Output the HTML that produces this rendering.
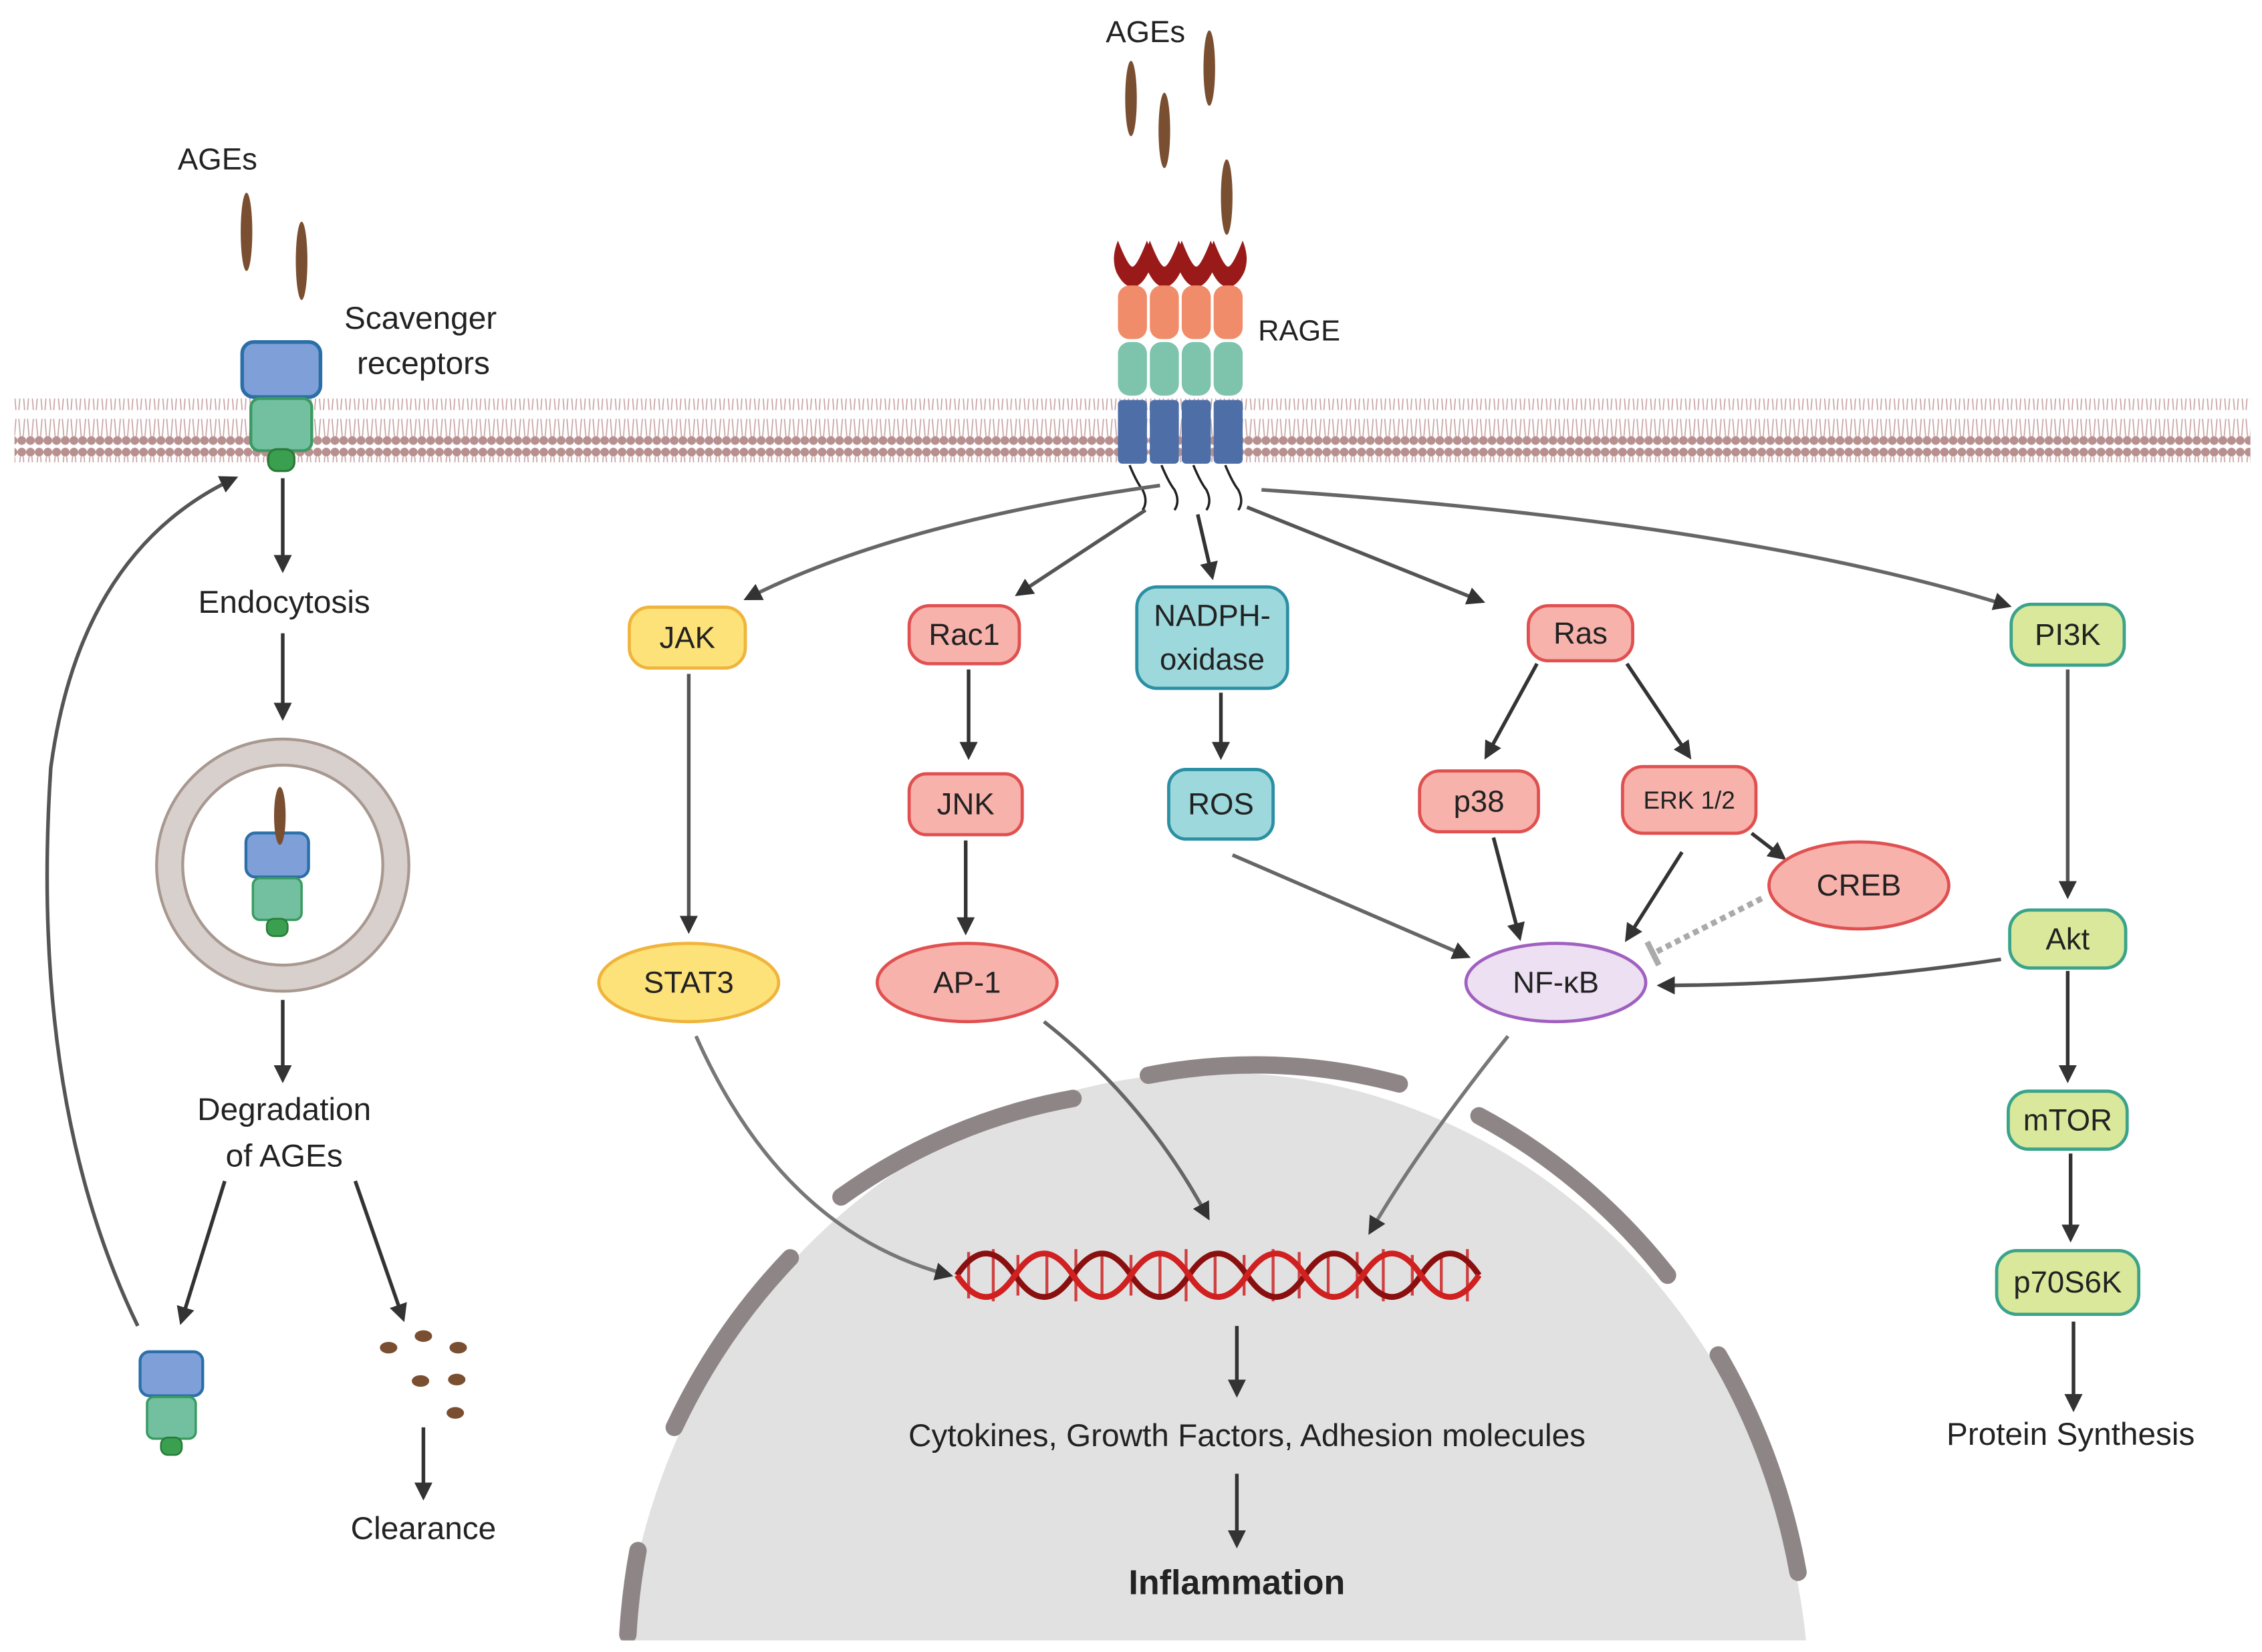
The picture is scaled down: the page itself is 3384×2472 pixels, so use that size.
<!DOCTYPE html>
<html><head><meta charset="utf-8"><style>
html,body{margin:0;padding:0;background:#fff;overflow:hidden;width:3384px;height:2472px}
svg{display:block}
text{font-family:"Liberation Sans",sans-serif;fill:#222}
</style></head><body>
<svg width="3384" height="2472" viewBox="0 0 1560 1140" preserveAspectRatio="none" xmlns="http://www.w3.org/2000/svg">
<defs>
<marker id="a" viewBox="0 0 10 10" refX="8" refY="5" markerWidth="5" markerHeight="5" orient="auto"><path d="M0,0L10,5L0,10z" fill="#333"/></marker>
<pattern id="mem" width="6" height="44" patternUnits="userSpaceOnUse">
<circle cx="3" cy="4" r="3" fill="#b89090"/><circle cx="3" cy="40" r="3" fill="#b89090"/>
<path d="M2,7L1,19M4,7L5,19M2,37L1,25M4,37L5,25" stroke="#c9a3a3" stroke-width="0.8"/>
</pattern>
<clipPath id="cp"><rect x="0" y="0" width="1560" height="1132"/></clipPath>
</defs>
<rect width="1560" height="1140" fill="#fff"/>
<rect x="10" y="275" width="1542" height="44" fill="url(#mem)"/>
<g clip-path="url(#cp)">
<ellipse cx="838" cy="1180" rx="410" ry="440" fill="#e2e1e2"/>
<g fill="none" stroke="#8e8586" stroke-width="12" stroke-linecap="round">
<path d="M580,826 A410,440 0 0 1 740,758"/>
<path d="M792,742 A410,440 0 0 1 965,748"/>
<path d="M1020,770 A410,440 0 0 1 1150,880"/>
<path d="M1185,935 A410,440 0 0 1 1240,1085"/>
<path d="M545,868 A410,440 0 0 0 465,985"/>
<path d="M440,1070 A410,440 0 0 0 433,1128"/>
</g>
</g>
<g fill="#7a4e30">
<ellipse cx="170" cy="160" rx="4" ry="27"/><ellipse cx="208" cy="180" rx="4" ry="27"/>
<ellipse cx="780" cy="68" rx="4" ry="26"/><ellipse cx="803" cy="90" rx="4" ry="26"/>
<ellipse cx="834" cy="47" rx="4" ry="26"/><ellipse cx="846" cy="136" rx="4" ry="26"/>
</g>
<g>
<g id="rc">
<path d="M771,166 Q778,184 781,184 Q784,184 791,166 Q796,178 792,188 Q787,198 781,198 Q775,198 770,188 Q766,178 771,166z" fill="#9a1a1a"/>
<rect x="771" y="197" width="20" height="37" rx="8" fill="#f08c6a"/>
<rect x="771" y="236" width="20" height="37" rx="8" fill="#7ec4ac"/>
<rect x="771" y="276" width="20" height="44" rx="3" fill="#4e6ea8"/>
<path d="M779,321 Q784,333 788,338 Q792,346 788,352" stroke="#222" stroke-width="1.6" fill="none"/>
</g>
<use href="#rc" x="22"/><use href="#rc" x="44"/><use href="#rc" x="66"/>
</g>
<g id="sr">
<rect x="167" y="236" width="54" height="38" rx="8" fill="#7f9fd8" stroke="#2a6fa8" stroke-width="2.5"/>
<rect x="173" y="275" width="42" height="36" rx="6" fill="#72c0a0" stroke="#3a9a60" stroke-width="2"/>
<rect x="185" y="310" width="18" height="15" rx="6" fill="#3aa050" stroke="#2a7a3a" stroke-width="1.5"/>
</g>
<circle cx="195" cy="597" r="78" fill="none" stroke="#d8d0cc" stroke-width="18"/>
<circle cx="195" cy="597" r="87" fill="none" stroke="#a89890" stroke-width="2"/>
<circle cx="195" cy="597" r="69" fill="none" stroke="#a89890" stroke-width="2"/>
<use href="#sr" transform="translate(36,386) scale(0.8)"/>
<ellipse cx="193" cy="563" rx="4" ry="20" fill="#7a4e30"/>
<use href="#sr" transform="translate(-37,744) scale(0.8)"/>
<g fill="#7a4e30"><ellipse cx="268" cy="930" rx="6" ry="4"/><ellipse cx="292" cy="922" rx="6" ry="4"/><ellipse cx="316" cy="930" rx="6" ry="4"/><ellipse cx="290" cy="953" rx="6" ry="4"/><ellipse cx="315" cy="952" rx="6" ry="4"/><ellipse cx="314" cy="975" rx="6" ry="4"/></g>
<g fill="none" stroke-width="4">
<g stroke="#d04040" stroke-width="2">
<path d="M668,864V896M685,862V898M702,866V894M722,866V894M742,862V898M760,864V896M780,866V894M800,864V896M818,862V898M838,866V894M858,866V894M878,862V898M896,864V896M916,866V894M936,864V896M954,862V898M974,866V894M994,866V894M1012,862V898"/>
</g>
<path d="M660,880 Q680,850 700,880 T740,880 T780,880 T820,880 T860,880 T900,880 T940,880 T980,880 T1020,880" stroke="#8a1010"/>
<path d="M660,880 Q680,910 700,880 T740,880 T780,880 T820,880 T860,880 T900,880 T940,880 T980,880 T1020,880" stroke="#d02020"/>
</g>
<g fill="none" stroke="#333" stroke-width="2.5" marker-end="url(#a)">
<path d="M800,335 Q620,360 515,413" stroke="#666"/>
<path d="M790,352 L702,410" stroke="#555"/>
<path d="M826,355 L836,398"/>
<path d="M860,350 L1022,415" stroke="#555"/>
<path d="M870,338 Q1200,360 1385,418" stroke="#666"/>
<path d="M668,462 V522"/><path d="M666,580 V643"/>
<path d="M842,478 V522"/>
<path d="M1060,458 L1025,522"/><path d="M1122,458 L1165,522"/>
<path d="M1208,575 L1230,592"/>
<path d="M1030,578 L1048,647"/><path d="M1160,588 L1122,648"/>
<path d="M850,590 L1012,660" stroke="#666"/>
<path d="M1380,662 Q1260,680 1145,680" stroke="#555"/>
<path d="M475,465 V642" stroke="#555"/>
<path d="M1426,462 V618" stroke="#555"/>
<path d="M1426,670 V745"/><path d="M1428,796 V855"/><path d="M1430,912 V972"/>
<path d="M480,715 Q540,850 655,880" stroke="#777"/>
<path d="M720,705 Q790,760 833,840" stroke="#666"/>
<path d="M1040,715 Q980,790 945,850" stroke="#777"/>
<path d="M853,915 V962"/><path d="M853,1017 V1066"/>
<path d="M195,330 V393"/><path d="M195,437 V495"/><path d="M195,690 V745"/>
<path d="M155,815 L125,912"/><path d="M245,815 L278,910"/>
<path d="M292,985 V1033"/>
<path d="M95,915 Q20,760 35,530 Q55,380 162,330" stroke="#555"/>
</g>
<path d="M1215,620 L1140,658" stroke="#aaa" stroke-width="4" stroke-dasharray="4,3" fill="none"/>
<path d="M1136,650 L1144,666" stroke="#aaa" stroke-width="4"/>
<g stroke-width="2.2" font-size="21">
<rect x="434" y="419" width="80" height="42" rx="14" fill="#fde27a" stroke="#f0b43c"/>
<rect x="627" y="418" width="76" height="40" rx="14" fill="#f7b2ab" stroke="#e05050"/>
<rect x="784" y="405" width="104" height="70" rx="14" fill="#9cd8dc" stroke="#2b8fa3"/>
<rect x="1054" y="418" width="72" height="38" rx="14" fill="#f7b2ab" stroke="#e05050"/>
<rect x="1387" y="417" width="78" height="42" rx="14" fill="#d9e89a" stroke="#3aa38a"/>
<rect x="627" y="534" width="78" height="42" rx="12" fill="#f7b2ab" stroke="#e05050"/>
<rect x="806" y="531" width="72" height="48" rx="12" fill="#9cd8dc" stroke="#2b8fa3"/>
<rect x="979" y="532" width="82" height="42" rx="14" fill="#f7b2ab" stroke="#e05050"/>
<rect x="1119" y="529" width="92" height="46" rx="14" fill="#f7b2ab" stroke="#e05050"/>
<ellipse cx="1282" cy="611" rx="62" ry="30" fill="#f7b2ab" stroke="#e05050"/>
<ellipse cx="475" cy="678" rx="62" ry="27" fill="#fde27a" stroke="#f0b43c"/>
<ellipse cx="667" cy="678" rx="62" ry="27" fill="#f7b2ab" stroke="#e05050"/>
<ellipse cx="1073" cy="678" rx="62" ry="27" fill="#ece0f2" stroke="#a060c0"/>
<rect x="1386" y="628" width="80" height="40" rx="14" fill="#d9e89a" stroke="#3aa38a"/>
<rect x="1385" y="753" width="82" height="40" rx="14" fill="#d9e89a" stroke="#3aa38a"/>
<rect x="1377" y="863" width="98" height="44" rx="14" fill="#d9e89a" stroke="#3aa38a"/>
</g>
<g font-size="21" text-anchor="middle">
<text x="474" y="447">JAK</text>
<text x="665" y="445">Rac1</text>
<text x="836" y="432">NADPH-</text><text x="836" y="462">oxidase</text>
<text x="1090" y="444">Ras</text>
<text x="1426" y="445">PI3K</text>
<text x="666" y="562">JNK</text>
<text x="842" y="562">ROS</text>
<text x="1020" y="560">p38</text>
<text x="1165" y="558" font-size="17">ERK 1/2</text>
<text x="1282" y="618">CREB</text>
<text x="475" y="685">STAT3</text>
<text x="667" y="685">AP-1</text>
<text x="1073" y="685">NF-κB</text>
<text x="1426" y="655">Akt</text>
<text x="1426" y="780">mTOR</text>
<text x="1426" y="892">p70S6K</text>
<text x="1428" y="997" font-size="22">Protein Synthesis</text>
<text x="860" y="998" font-size="22">Cytokines, Growth Factors, Adhesion molecules</text>
<text x="853" y="1100" font-size="24" font-weight="bold">Inflammation</text>
<text x="150" y="117">AGEs</text>
<text x="790" y="29">AGEs</text>
<text x="290" y="227" font-size="22">Scavenger</text>
<text x="292" y="258" font-size="22">receptors</text>
<text x="196" y="423" font-size="22">Endocytosis</text>
<text x="196" y="773" font-size="22">Degradation</text>
<text x="196" y="805" font-size="22">of AGEs</text>
<text x="292" y="1062" font-size="22">Clearance</text>
<text x="896" y="235" font-size="20">RAGE</text>
</g>
</svg>
</body></html>
